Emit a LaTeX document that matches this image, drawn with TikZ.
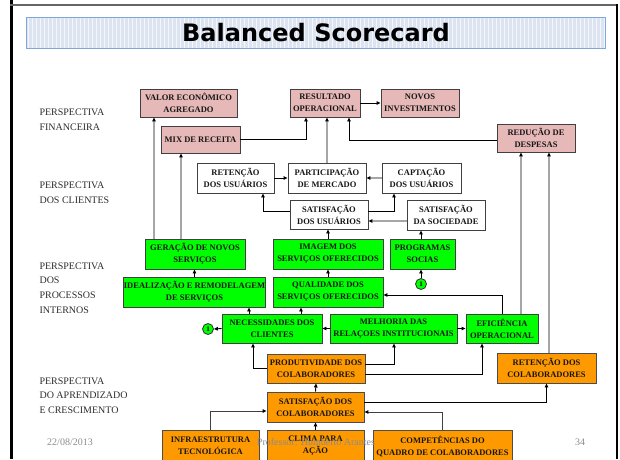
\documentclass[tikz,border=0pt]{standalone}
\usepackage{fontspec}
\setmainfont{Liberation Serif}
\newfontfamily\titlefont{DejaVu Sans}
\usetikzlibrary{arrows.meta,shadows}
\definecolor{finfill}{HTML}{E6B9B8}
\definecolor{profill}{HTML}{00FF00}
\definecolor{aprfill}{HTML}{FF9900}
\definecolor{linegray}{HTML}{A6A6A6}
\definecolor{boxtext}{HTML}{161616}
\definecolor{labeltext}{HTML}{2E2E2E}
\definecolor{footgray}{HTML}{8C8C8C}
\definecolor{titlefill}{HTML}{DCE4F2}
\definecolor{titlegrid}{HTML}{F4F6FA}
\definecolor{titleline}{HTML}{7FA7D9}

\begin{document}
\begin{tikzpicture}[x=1pt,y=-1pt,
cardbox/.style={draw=#1, line width=0.9pt, inner sep=0pt, align=center, text=boxtext,
  font=\fontsize{8.5}{12}\selectfont\bfseries,
  drop shadow={shadow xshift=1.2pt, shadow yshift=-1.2pt, fill=black!40}},
finbox/.style={cardbox=black!75, fill=finfill},
clibox/.style={cardbox=black!75, fill=white},
probox/.style={cardbox=black!75, fill=profill},
aprbox/.style={cardbox=black!70, fill=aprfill},
sz/.style 2 args={minimum width=#1pt, minimum height=#2pt},
numcirc/.style={circle, draw=black!80, fill=profill, line width=0.8pt, inner sep=0pt, minimum size=11pt, font=\fontsize{7}{7}\selectfont\bfseries},
arrowtip/.style={-{Triangle[length=4pt,width=3.6pt,color=black]}},
bline/.style={arrowtip, line width=0.9pt, draw=black},
gline/.style={arrowtip, line width=1.6pt, draw=linegray},
dline/.style={arrowtip, line width=1pt, draw=black!75},
persp/.style={anchor=west, align=left, text=labeltext, font=\fontsize{10}{14.7}\selectfont},
foot/.style={text=footgray, font=\fontsize{10}{12}\selectfont}
]
\useasboundingbox (0,0) rectangle (620,459);
\clip (0,0) rectangle (620,459);
\fill[white] (0,0) rectangle (620,459);
\draw[line width=3pt] (11,0) -- (11,459);
\draw[line width=2pt, black!60] (10,4.5) -- (618,4.5);
\draw[line width=1.5pt] (617,4) -- (617,459);

\fill[titlefill] (26,17) rectangle (605,48);
\draw[titlegrid, step=4] (26,17) grid (605,48);
\draw[titleline, line width=1pt] (26,17) rectangle (605,48);
\node[font=\titlefont\bfseries\fontsize{24}{24}\selectfont] (title) at (316,33) {Balanced Scorecard};

\node[persp] (pfin) at (36,119.5) {PERSPECTIVA\\FINANCEIRA};
\node[persp] (pcli) at (36,193) {PERSPECTIVA\\DOS CLIENTES};
\node[persp] (ppro) at (36,288) {PERSPECTIVA\\DOS\\PROCESSOS\\INTERNOS};
\node[persp] (papr) at (36,395.5) {PERSPECTIVA\\DO APRENDIZADO\\E CRESCIMENTO};

\node[finbox, sz={97}{28}] (valor) at (188.5,103) {VALOR ECONÔMICO\\AGREGADO};
\node[finbox, sz={70}{28}] (result) at (325,103) {RESULTADO\\OPERACIONAL};
\node[finbox, sz={78}{28}] (novos) at (420,103) {NOVOS\\INVESTIMENTOS};
\node[finbox, sz={79}{27}] (mix) at (200.5,139.5) {MIX DE RECEITA};
\node[finbox, sz={78}{28}] (reduc) at (536,138) {REDUÇÃO DE\\DESPESAS};

\node[clibox, sz={77}{30}] (retu) at (235.5,178) {RETENÇÃO\\DOS USUÁRIOS};
\node[clibox, sz={78}{30}] (part) at (327,178) {PARTICIPAÇÃO\\DE MERCADO};
\node[clibox, sz={79}{30}] (capt) at (421.5,178) {CAPTAÇÃO\\DOS USUÁRIOS};
\node[clibox, sz={78}{29}] (satu) at (329,214.5) {SATISFAÇÃO\\DOS USUÁRIOS};
\node[clibox, sz={78}{30}] (sats) at (446,215) {SATISFAÇÃO\\DA SOCIEDADE};

\node[probox, sz={100}{30}] (gera) at (195,254) {GERAÇÃO DE NOVOS\\SERVIÇOS};
\node[probox, sz={110}{30}] (imag) at (328,254) {IMAGEM DOS\\SERVIÇOS OFERECIDOS};
\node[probox, sz={65}{30}] (prog) at (422.5,254) {PROGRAMAS\\SOCIAS};
\node[numcirc] (onea) at (421,284) {1};
\node[probox, sz={141}{30}] (idea) at (194.5,292) {IDEALIZAÇÃO E REMODELAGEM\\DE SERVIÇOS};
\node[probox, sz={110}{30}] (qual) at (328,292) {QUALIDADE DOS\\SERVIÇOS OFERECIDOS};
\node[probox, sz={100}{29}] (nece) at (272,328.5) {NECESSIDADES DOS\\CLIENTES};
\node[numcirc] (oneb) at (208,329) {1};
\node[probox, sz={127}{29}] (melh) at (393.5,328.5) {MELHORIA DAS\\RELAÇOES INSTITUCIONAIS};
\node[probox, sz={72}{29}] (efic) at (502,328.5) {EFICIÊNCIA\\OPERACIONAL};

\node[aprbox, sz={98}{29}] (prod) at (316,368.5) {PRODUTIVIDADE DOS\\COLABORADORES};
\node[aprbox, sz={99}{30}] (retc) at (546.5,368) {RETENÇÃO DOS\\COLABORADORES};
\node[aprbox, sz={97}{30}] (satc) at (315.5,407) {SATISFAÇÃO DOS\\COLABORADORES};
\node[aprbox, sz={97}{32}] (infra) at (210.5,446) {INFRAESTRUTURA\\TECNOLÓGICA};
\node[aprbox, sz={97}{32}] (clima) at (315.5,446) {CLIMA PARA\\AÇÃO};
\node[aprbox, sz={139}{32}] (comp) at (442.5,446) {COMPETÊNCIAS DO\\QUADRO DE COLABORADORES};

\draw[gline] (gera.north -| 154,0) -- (valor.south -| 154,0);
\draw[gline] (gera.north -| 181,0) -- (mix.south -| 181,0);
\draw[bline] (mix.east) -| (result.south -| 306,0);
\draw[gline] (part.north) -- (part.north |- result.south);
\draw[bline] ([yshift=-2pt]reduc.west) -| (result.south -| 349,0);
\draw[bline] (result.east) -- (novos.west);
\draw[gline] (efic.north -| 521,0) -- (reduc.south -| 521,0);
\draw[gline] (retc.north -| 549,0) -- (reduc.south -| 549,0);
\draw[bline] (retu.east) -- (part.west);
\draw[gline] (capt.west) -- (part.east);
\draw[bline] ([yshift=3.5pt]satu.west) -| (retu.south -| 263,0);
\draw[bline] ([yshift=3.5pt]satu.east) -| (capt.south -| 394,0);
\draw[gline] ([yshift=-6pt]sats.west) -- ([yshift=-6pt]sats.west -| satu.east);
\draw[bline] (imag.north) -- (imag.north |- satu.south);
\draw[bline] (prog.north -| onea.north) -- (onea.north |- sats.south);
\draw[bline] (onea.north) -- (onea.north |- prog.south);
\draw[bline] (idea.north) -- (idea.north |- gera.south);
\draw[bline] (qual.north) -- (imag.south);
\draw[bline] (nece.north -| 249,0) -- (idea.south -| 249,0);
\draw[bline] (nece.north -| 301,0) -- (qual.south -| 301,0);
\draw[bline] (nece.west) -- (oneb.east);
\draw[bline] (melh.west) -- (nece.east);
\draw[bline] (melh.east) -- (efic.west);
\draw[bline] (efic.north) |- ([yshift=-3pt]qual.east);
\draw[bline] (prod.west) -| (nece.south -| 253,0);
\draw[bline] ([yshift=4.5pt]prod.east) -| (melh.south -| 394,0);
\draw[bline] ([yshift=-5.5pt]prod.east) -| (efic.south -| 482,0);
\draw[bline] (satc.north) -- (prod.south);
\draw[bline] ([yshift=5pt]satc.east) -| (retc.south);
\draw[dline] (infra.north) |- ([yshift=-4pt]satc.west);
\draw[bline] (clima.north) -- (satc.south);
\draw[dline] (comp.north) |- ([yshift=-5pt]satc.east);

\node[foot] (date) at (70,442) {22/08/2013};
\node[foot] (prof) at (316,442) {Professor: Humberto Arantes};
\node[foot] (page) at (580,442) {34};
\end{tikzpicture}
\end{document}
